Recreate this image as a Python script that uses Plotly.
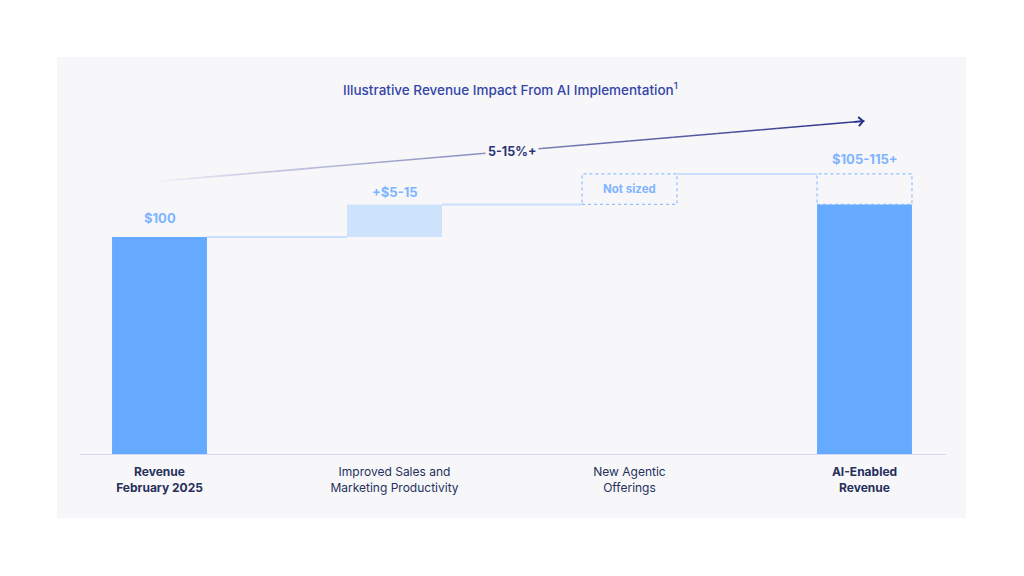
import plotly.graph_objects as go

# ---------------- data ----------------
categories = [
    "<b>Revenue</b><br><b>February 2025</b>",
    "Improved Sales and<br>Marketing Productivity",
    "New Agentic<br>Offerings",
    "<b>AI-Enabled</b><br><b>Revenue</b>",
]
x_pos = [0, 1, 2, 3]
base_revenue = 100          # Revenue Feb 2025 (indexed)
sales_uplift = 15           # upper end of +$5-15
not_sized_height = 14       # placeholder height for unsized agentic offerings
ai_enabled_solid = base_revenue + sales_uplift
value_labels = ["$100", "+$5-15", "Not sized", "$105-115+"]
growth_label = "5-15%+"
arrow_start = (0, 125.7)
arrow_end = (3, 153.3)

# ---------------- styling ----------------
BAR_DARK = "#66aaff"
BAR_LIGHT = "#cde2fc"
CONNECT = "#c9dffc"
DOTTED = "#8fbfff"
LABEL_BLUE = "#7fb4ff"
NAVY = "#26305a"
TITLE_BLUE = "#3444a8"
PANEL_BG = "#f7f7fa"
FONT = "Inter, Lato, sans-serif"

W, H = 1024, 576
ML, MR, MT, MB = 42, 42, 41, 121
PW, PH = W - ML - MR, H - MT - MB
YMAX = 190
BW = 0.404


def px_x(px):
    return (px - ML) / PW


def px_y(py):
    return (H - MB - py) / PH


fig = go.Figure()

# solid bars
fig.add_trace(go.Bar(
    x=[x_pos[0], x_pos[3]], y=[base_revenue, ai_enabled_solid], base=[0, 0],
    width=BW, marker=dict(color=BAR_DARK, line=dict(width=0)), hoverinfo="skip"))
# floating increment bar
fig.add_trace(go.Bar(
    x=[x_pos[1]], y=[sales_uplift], base=[base_revenue],
    width=BW, marker=dict(color=BAR_LIGHT, line=dict(width=0)), hoverinfo="skip"))

shapes = []
# panel background
shapes.append(dict(type="rect", xref="paper", yref="paper",
                   x0=px_x(57), x1=px_x(966), y0=px_y(518), y1=px_y(57),
                   fillcolor=PANEL_BG, line=dict(width=0), layer="below"))

top_sales = base_revenue + sales_uplift
top_all = top_sales + not_sized_height
levels = [base_revenue, top_sales, top_all]
# connectors
for i, lvl in enumerate(levels):
    shapes.append(dict(type="line", xref="x", yref="y",
                       x0=x_pos[i] + BW / 2, x1=x_pos[i + 1] - BW / 2, y0=lvl, y1=lvl,
                       line=dict(color=CONNECT, width=2), layer="below"))
# dotted boxes
for xi in (x_pos[2], x_pos[3]):
    shapes.append(dict(type="rect", xref="x", yref="y",
                       x0=xi - BW / 2, x1=xi + BW / 2, y0=top_sales, y1=top_all,
                       line=dict(color=DOTTED, width=1.2, dash="dot"),
                       fillcolor="rgba(0,0,0,0)", layer="above"))
# baseline
shapes.append(dict(type="line", xref="x", yref="y",
                   x0=-0.5 + (80 - ML) / (PW / 4), x1=-0.5 + (946 - ML) / (PW / 4),
                   y0=0, y1=0, line=dict(color="#d3d8f2", width=2), layer="above"))

# gradient growth arrow
n_seg = 48
c0 = (244, 244, 251)
c1 = (42, 50, 138)
(xs, ys), (xe, ye) = arrow_start, arrow_end
for k in range(n_seg):
    t0, t1 = k / n_seg, (k + 1) / n_seg
    tm = (t0 + t1) / 2
    f = tm ** 0.8
    col = "rgb({},{},{})".format(*[int(round(a + (b - a) * f)) for a, b in zip(c0, c1)])
    shapes.append(dict(type="line", xref="x", yref="y",
                       x0=xs + (xe - xs) * t0, x1=xs + (xe - xs) * t1,
                       y0=ys + (ye - ys) * t0, y1=ys + (ye - ys) * t1,
                       line=dict(color=col, width=1.6), layer="above"))

annotations = []
# arrowhead
annotations.append(dict(x=xe, y=ye, ax=xe - 0.05, ay=ye - 0.05 * (ye - ys) / (xe - xs),
                        xref="x", yref="y", axref="x", ayref="y", text="",
                        showarrow=True, arrowhead=4, arrowsize=1.1, arrowwidth=1.6,
                        arrowcolor="rgb(42,50,138)"))
# growth label
annotations.append(dict(x=(xs + xe) / 2, y=(ys + ye) / 2, xref="x", yref="y",
                        text=f"<b>{growth_label}</b>", showarrow=False,
                        font=dict(family=FONT, size=12.5, color="#2c3577"),
                        bgcolor=PANEL_BG, borderpad=2))
# value labels
label_y = [base_revenue, top_sales, None, top_all]
label_shift = [9, 2, 0, 5]
for i, lbl in enumerate(value_labels):
    if i == 2:
        annotations.append(dict(x=x_pos[i], y=(top_sales + top_all) / 2, xref="x", yref="y",
                                text=f"<b>{lbl}</b>", showarrow=False,
                                font=dict(family=FONT, size=11.5, color=LABEL_BLUE)))
    else:
        annotations.append(dict(x=x_pos[i], y=label_y[i], xref="x", yref="y",
                                text=f"<b>{lbl}</b>", showarrow=False, yanchor="bottom",
                                yshift=label_shift[i],
                                font=dict(family=FONT, size=13, color=LABEL_BLUE)))
# title
annotations.append(dict(x=px_x(510), y=px_y(90), xref="paper", yref="paper",
                        yanchor="middle", yshift=1,
                        text="Illustrative Revenue Impact From AI Implementation<sup>1</sup>",
                        showarrow=False,
                        font=dict(family=FONT, size=13.5, color=TITLE_BLUE, weight=500)))

fig.update_layout(
    width=W, height=H,
    margin=dict(l=ML, r=MR, t=MT, b=MB, pad=0),
    paper_bgcolor="white", plot_bgcolor="rgba(0,0,0,0)",
    showlegend=False, barmode="overlay",
    shapes=shapes, annotations=annotations,
    font=dict(family=FONT),
    xaxis=dict(range=[-0.5, 3.5], tickvals=x_pos, ticktext=categories,
               showgrid=False, zeroline=False, showline=False, ticks="",
               ticklabelstandoff=8,
               tickfont=dict(family=FONT, size=12, color=NAVY), fixedrange=True),
    yaxis=dict(range=[0, YMAX], visible=False, fixedrange=True),
)

fig.write_html("out.html")
